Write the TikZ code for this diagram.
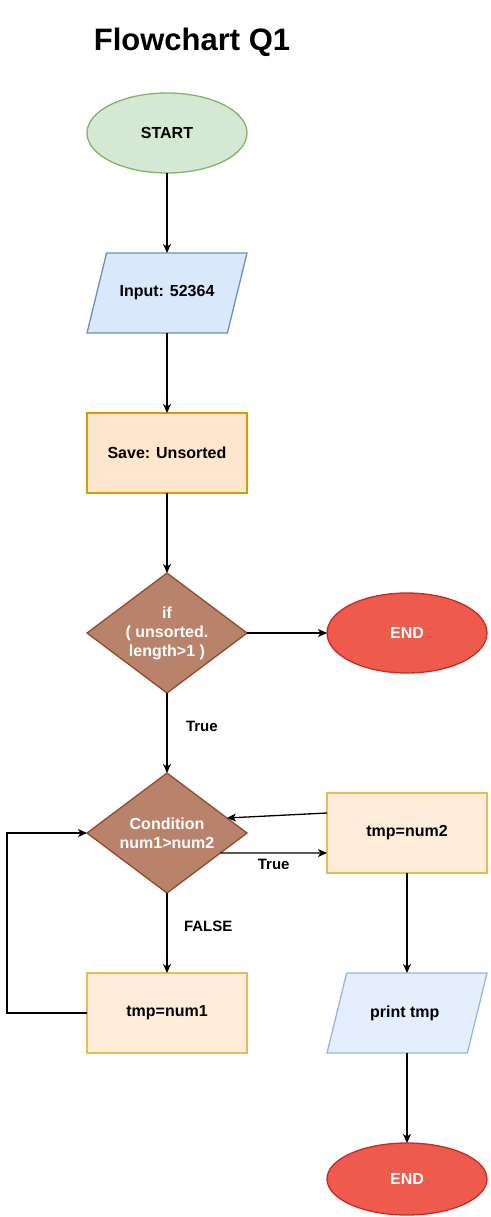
\documentclass[tikz,border=0pt]{standalone}
\usepackage{fontspec}
\setmainfont{Liberation Sans}
\usetikzlibrary{shapes.geometric, arrows.meta, calc}

\definecolor{startfill}{HTML}{D5E8D4}
\definecolor{startline}{HTML}{82B366}
\definecolor{iofill}{HTML}{DAE8FC}
\definecolor{ioline}{HTML}{6C8EBF}
\definecolor{savefill}{HTML}{FFE6CC}
\definecolor{saveline}{HTML}{D79B00}
\definecolor{condfill}{HTML}{B9836B}
\definecolor{condline}{HTML}{8C4B2F}
\definecolor{stopfill}{HTML}{EE5A4B}
\definecolor{stopline}{HTML}{C62A25}
\definecolor{tmpfill}{HTML}{FFEDDA}
\definecolor{tmpline}{HTML}{E8BB55}
\definecolor{printfill}{HTML}{E5EEFD}
\definecolor{printline}{HTML}{9AB4DD}

\begin{document}
\begin{tikzpicture}
		[
			x=1pt, y=-1pt,
			every node/.style={font=\fontsize{16}{19}\selectfont\bfseries, align=center, outer sep=0pt},
			term/.style={ellipse, draw=startline, fill=startfill, line width=1.3pt, minimum width=160pt, minimum height=80pt},
			stopbox/.style={ellipse, draw=stopline, fill=stopfill, text=white, line width=1.3pt, minimum width=160pt, minimum height=80pt},
			iobox/.style={trapezium, trapezium left angle=76, trapezium right angle=104, trapezium stretches body=true, inner ysep=32pt, draw=ioline, fill=iofill, line width=1.3pt, minimum width=160pt, minimum height=80pt},
			printbox/.style={iobox, draw=printline, fill=printfill},
			savebox/.style={rectangle, draw=saveline, fill=savefill, line width=1.3pt, minimum width=160pt, minimum height=80pt},
			tmpbox/.style={savebox, draw=tmpline, fill=tmpfill},
			condbox/.style={diamond, aspect=1.333, inner sep=0pt, draw=condline, fill=condfill, text=white, line width=1.3pt, minimum width=160pt, minimum height=120pt},
			flow/.style={line width=1.3pt, -{Stealth[length=9pt, width=8pt, inset=2.5pt]}},
			lbl/.style={font=\fontsize{15}{18}\selectfont\bfseries, inner sep=0pt},
		]

		\useasboundingbox (0,0) rectangle (490,1217);

		% Title
		\node[font=\fontsize{31}{37}\selectfont\bfseries] (title) at (192,42) {Flowchart Q1};

		% Nodes
		\foreach \style/\name/\x/\y/\text in
		{
			term/start/167/133/START,
			iobox/input/167/293/{Input: 52364},
			savebox/unsorted/167/453/{Save: Unsorted},
			condbox/check/167/633/{if\\( unsorted.\\length>1 )},
			stopbox/end1/407/633/END,
			condbox/compare/167/833/{Condition\\num1>num2},
			tmpbox/tmptwo/407/833/tmp=num2,
			tmpbox/tmpone/167/1013/tmp=num1,
			printbox/print/407/1013/{print tmp}
		}
			\node[\style] (\name) at (\x,\y) {\text};
		\node[stopbox, minimum height=72pt] (end2) at (407,1179) {END};

		% Edges
		\foreach \u/\v in
		{
			start/input,
			input/unsorted,
			unsorted/check,
			check/end1,
			tmptwo/print,
			print/end2}
			\draw[flow] (\u) -- (\v);

		% Branches
		\draw[flow] (check) -- node[lbl, pos=0.42, right=19pt] {True} (compare);
		\draw[flow] (compare) -- node[lbl, pos=0.42, right=17pt] {FALSE} (tmpone);
		\draw[flow] ($(compare.east)!1/3!(compare.south)$) -- node[lbl, below=6pt] {True} ([yshift=-20pt]tmptwo.west);
		\draw[flow] ([yshift=20pt]tmptwo.west) -- ($(compare.east)!1/4!(compare.north)$);
		\draw[flow] (tmpone.west) -- ++(-80,0) |- (compare.west);

		\end{tikzpicture}
\end{document}
